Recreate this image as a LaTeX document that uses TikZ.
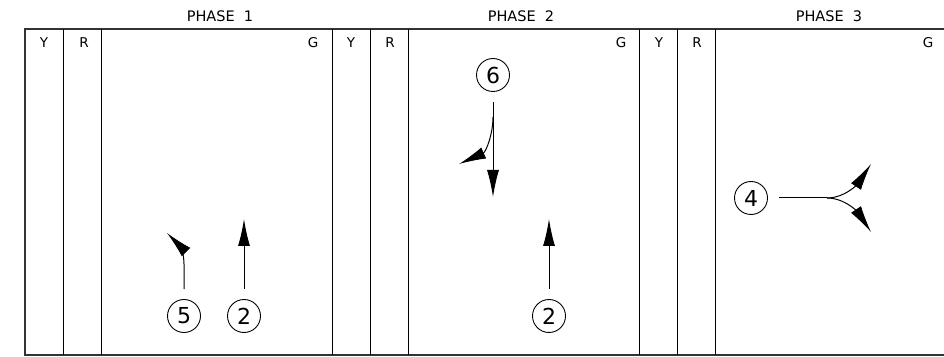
\documentclass[tikz,border=0pt]{standalone}
\usepackage{fontspec}
\setmainfont{DejaVu Sans}
\usepackage{tikz}
\usetikzlibrary{arrows.meta,positioning}
\tikzset{
  framethick/.style={line width=2pt, color=black!80},
  framethin/.style={line width=1pt, color=black},
  phlabel/.style={font=\fontsize{14.5}{17}\selectfont, inner sep=0pt},
  lamplabel/.style={font=\fontsize{13.5}{16}\selectfont, inner sep=0pt},
  mvcirc/.style={circle, draw, line width=0.9pt, minimum size=33pt, inner sep=0pt,
                 font=\fontsize{22}{25}\selectfont},
  marr/.style={-{Latex[length=27pt, width=12pt]}, line width=1pt, shorten <=10pt},
  mline/.style={line width=1pt},
}
\begin{document}
\begin{tikzpicture}[x=1pt, y=1pt]
  \useasboundingbox (0,0) rectangle (944,356);

  % frame
  \draw[framethick] (944,327) -- (25,327) -- (25,1) -- (944,1);
  \draw[framethin] (63,1) -- (63,327);
  \draw[framethin] (101,1) -- (101,327);
  \draw[framethin] (332,1) -- (332,327);
  \draw[framethin] (370,1) -- (370,327);
  \draw[framethin] (408,1) -- (408,327);
  \draw[framethin] (639,1) -- (639,327);
  \draw[framethin] (677,1) -- (677,327);
  \draw[framethin] (715,1) -- (715,327);

  % phase headings
  \node[phlabel] (ph1) at (220,340) {PHASE\ \ 1};
  \node[phlabel] (ph2) at (521,340) {PHASE\ \ 2};
  \node[phlabel] (ph3) at (829,340) {PHASE\ \ 3};

  % lamp columns
  \node[lamplabel] (y1) at (44,313)  {Y};
  \node[lamplabel] (r1) at (84,313)  {R};
  \node[lamplabel] (g1) at (313,313) {G};
  \node[lamplabel] (y2) at (351,313) {Y};
  \node[lamplabel] (r2) at (390,313) {R};
  \node[lamplabel] (g2) at (621,313) {G};
  \node[lamplabel] (y3) at (659,313) {Y};
  \node[lamplabel] (r3) at (697,313) {R};
  \node[lamplabel] (g3) at (928,313) {G};

  % movements
  \node[mvcirc] (mv5)  at (184,40)  {5};
  \node[mvcirc] (mv2a) at (244,40)  {2};
  \node[mvcirc] (mv2b) at (549,40)  {2};
  \node[mvcirc] (mv6)  at (493,281) {6};
  \node[mvcirc] (mv4)  at (751,158) {4};

  \coordinate (t2a) at (244,137);
  \coordinate (t2b) at (549,137);
  \coordinate (t5)  at (167,123);
  \coordinate (t6a) at (493,159);
  \coordinate (b6)  at (493,239);
  \coordinate (t6b) at (459,192);
  \coordinate (j4)  at (827,158);
  \coordinate (t4a) at (871,192);
  \coordinate (t4b) at (871,124);

  \draw[marr] (mv2a.north) -- (t2a);
  \draw[marr] (mv2b.north) -- (t2b);
  \draw[marr] (mv5.north) -- (184,92) .. controls (184,102) and (180,110) .. (t5);
  \draw[marr] (mv6.south) -- (t6a);
  \draw[marr, shorten <=0pt] (b6) .. controls (493,222) and (486,204) .. (t6b);
  \draw[mline, shorten <=11pt] (mv4.east) -- (j4);
  \draw[marr, shorten <=0pt] (j4) .. controls (846,158) and (859,174) .. (t4a);
  \draw[marr, shorten <=0pt] (j4) .. controls (846,158) and (859,142) .. (t4b);
\end{tikzpicture}
\end{document}
